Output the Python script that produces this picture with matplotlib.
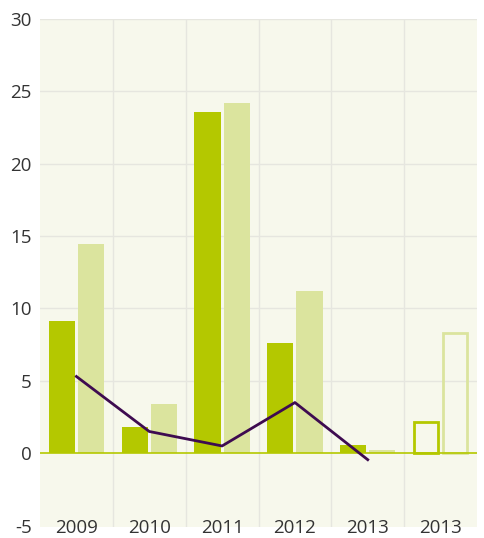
import matplotlib
matplotlib.use("Agg")
import matplotlib.pyplot as plt
import numpy as np

plt.rcParams['font.family'] = ['Open Sans', 'DejaVu Sans']
plt.rcParams['axes.unicode_minus'] = False

categories = ["2009", "2010", "2011", "2012", "2013", "2013"]
series_a = [9.1, 1.8, 23.6, 7.6, 0.55]
series_b = [14.45, 3.4, 24.2, 11.2, 0.2]
forecast_a = 2.15
forecast_b = 8.3
line_vals = [5.3, 1.5, 0.5, 3.5, -0.45]

dark = "#b4c800"
light = "#dbe49e"
bg = "#f7f8ec"
grid = "#e6e6df"
purple = "#3e0b50"
text = "#333333"

fig = plt.figure(figsize=(4.84, 5.38), dpi=100)
ax = fig.add_axes([40/484, 1 - 527/538, 437/484, (527-19)/538])
ax.set_facecolor(bg)

x = np.arange(len(categories))
w = 0.36
off = 0.2
n = len(series_a)
ax.bar(x[:n] - off, series_a, w, color=dark, zorder=3)
ax.bar(x[:n] + off, series_b, w, color=light, zorder=3)
ax.bar([x[n] - off], [forecast_a], w - 0.03, fill=False, edgecolor=dark, linewidth=2, zorder=3)
ax.bar([x[n] + off], [forecast_b], w - 0.03, fill=False, edgecolor=light, linewidth=2, zorder=3)
ax.plot(x[:n], line_vals, color=purple, linewidth=2, zorder=4)

ax.axhline(0, color=dark, linewidth=1.2, zorder=3.5)

ax.set_xlim(-0.5, len(categories) - 0.5)
ax.set_ylim(-5.1, 30)
ax.set_yticks(np.arange(-5, 31, 5))
ax.set_xticks(x)
ax.set_xticklabels(categories)

for yv in range(5, 31, 5):
    ax.axhline(yv, color=grid, linewidth=1, zorder=1)
for xv in np.arange(0.5, len(categories) - 0.5, 1):
    ax.axvline(xv, color=grid, linewidth=1, zorder=1)

for s in ax.spines.values():
    s.set_visible(False)
ax.tick_params(axis='both', which='both', length=0, colors=text, labelsize=13.5)
ax.tick_params(axis='x', pad=-6)
ax.tick_params(axis='y', pad=6)

fig.savefig("out.png", dpi=100, facecolor="white")
